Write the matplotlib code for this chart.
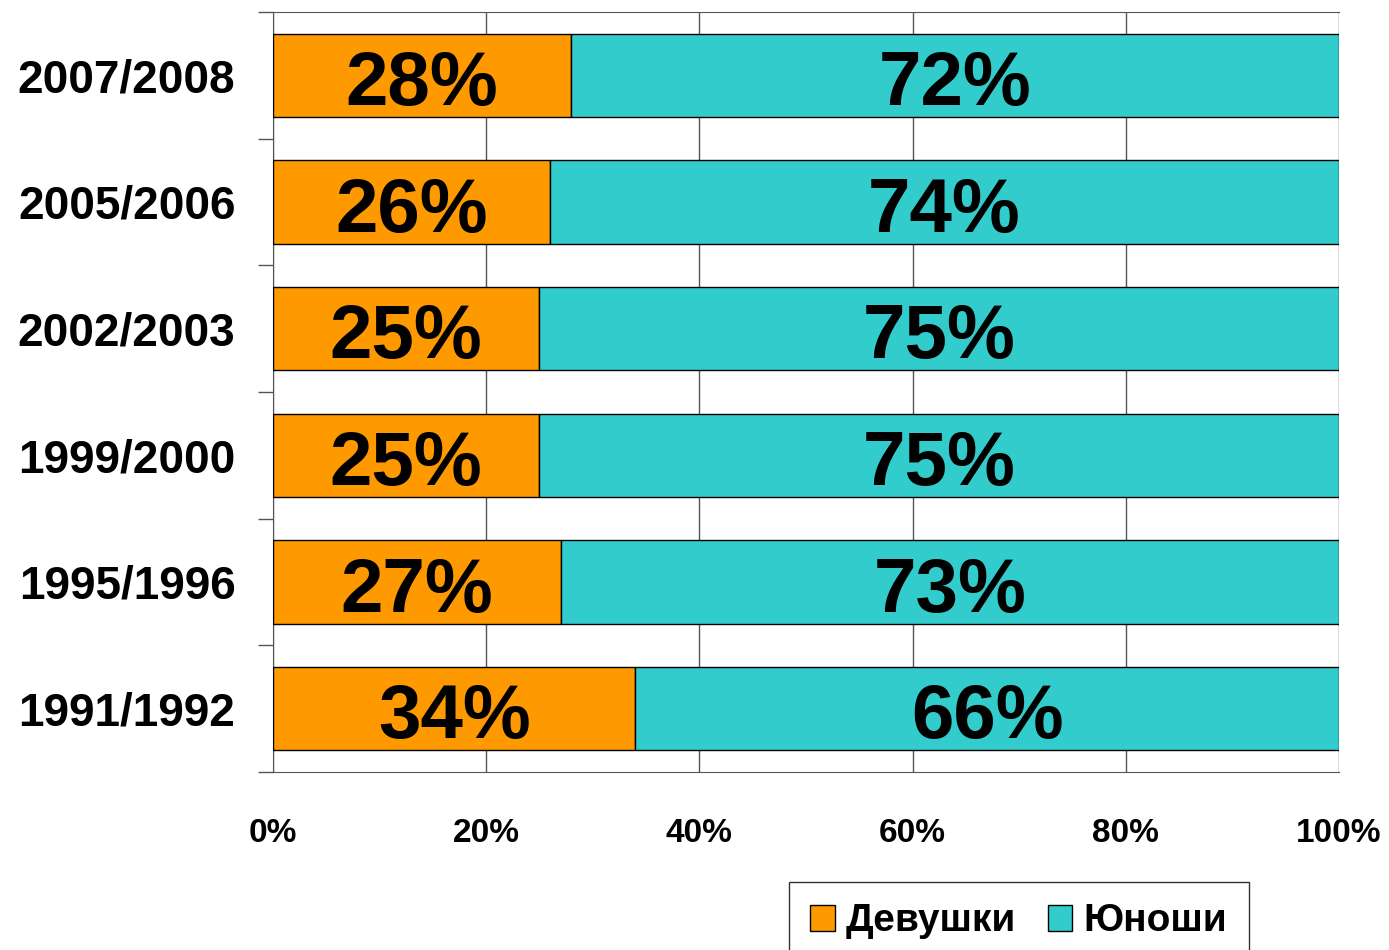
import numpy as np
import matplotlib
matplotlib.use("Agg")
import matplotlib.pyplot as plt

years = ["1991/1992", "1995/1996", "1999/2000", "2002/2003", "2005/2006", "2007/2008"]
girls = [34, 27, 25, 25, 26, 28]
boys = [66, 73, 75, 75, 74, 72]
ticks = [0, 20, 40, 60, 80, 100]

plt.rcParams['font.family'] = ['Liberation Sans', 'DejaVu Sans']
plt.rcParams['font.weight'] = 'bold'

fig = plt.figure(figsize=(13.89, 9.5), dpi=100)
ax = fig.add_axes([0.1965, 0.1874, 0.7675, 0.8])

y = np.arange(len(years))
h = 0.66
ax.barh(y, girls, height=h, color='#FF9900', edgecolor='black', linewidth=1, label='Девушки', zorder=3)
ax.barh(y, boys, left=girls, height=h, color='#33CCCC', edgecolor='black', linewidth=1, label='Юноши', zorder=3)

for i in range(len(years)):
    ax.text(girls[i] / 2, y[i] - 0.08, f"{girls[i]}%", ha='center', va='center',
            fontsize=55, fontweight='bold', zorder=4)
    ax.text(girls[i] + boys[i] / 2, y[i] - 0.08, f"{boys[i]}%", ha='center', va='center',
            fontsize=55, fontweight='bold', zorder=4)

ax.set_xlim(0, 100)
ax.set_ylim(-0.5, len(years) - 0.5)
ax.set_xticks(ticks)
ax.set_xticklabels([f"{t}%" for t in ticks], fontsize=24, fontweight='bold')
ax.set_yticks(y)
ax.set_yticklabels(years, fontsize=33, fontweight='bold')
ax.tick_params(axis='y', length=0, pad=27)
ax.tick_params(axis='x', length=0, pad=33)
# category boundary ticks on the y axis
ax.set_yticks(np.arange(-0.5, len(years), 1), minor=True)
ax.tick_params(axis='y', which='minor', length=11, width=1, color='#555555')
ax.set_xticks(ticks, minor=True)
ax.tick_params(axis='x', which='minor', length=8, width=1, color='#555555', direction='out')
ax.xaxis.grid(True, color='#555555', linewidth=1, zorder=0)

for s in ['left', 'bottom', 'top']:
    ax.spines[s].set_color('#555555')
ax.spines['right'].set_visible(False)

leg = fig.legend(loc='upper left', bbox_to_anchor=(0.568, 0.0716), ncol=2,
                 prop={'size': 28, 'weight': 'bold'}, frameon=True, fancybox=False,
                 edgecolor='black', handlelength=0.64, handleheight=0.64,
                 handletextpad=0.28, columnspacing=0.8, borderpad=0.55,
                 borderaxespad=0)
leg.get_frame().set_linewidth(1)

fig.savefig('out.png', dpi=100)
